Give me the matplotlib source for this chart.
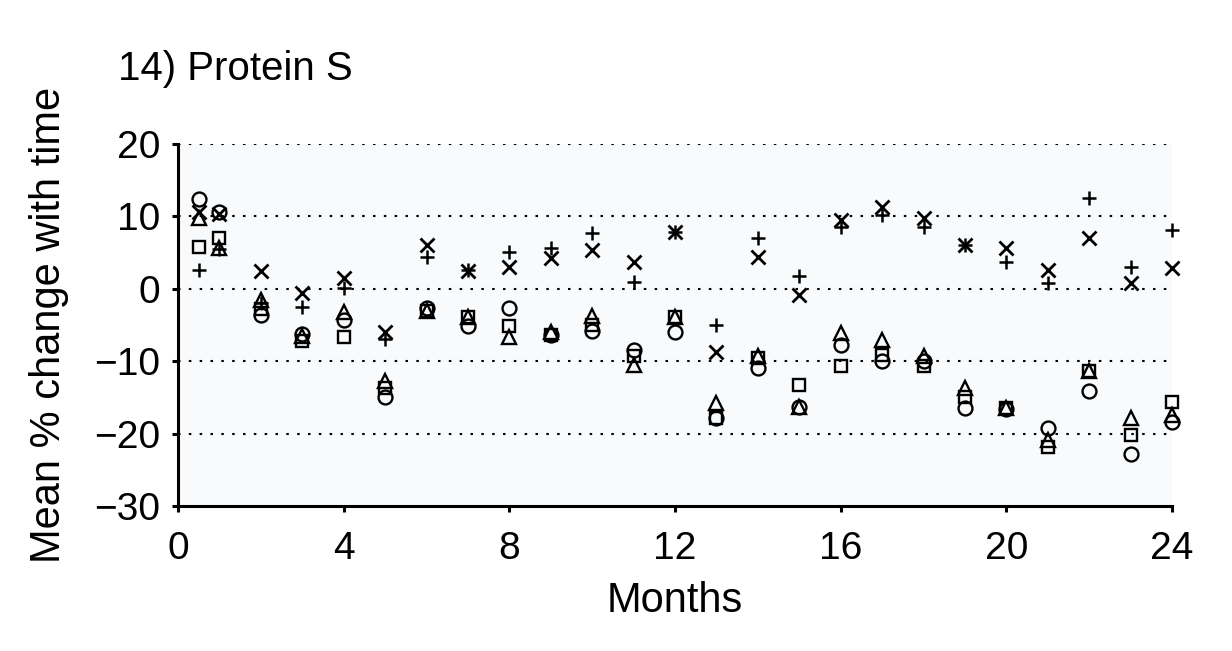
import numpy as np
import matplotlib.pyplot as plt

plt.rcParams['font.family'] = ['Liberation Sans', 'DejaVu Sans']

months = [0.5, 1, 2, 3, 4, 5, 6, 7, 8, 9, 10, 11, 12,
          13, 14, 15, 16, 17, 18, 19, 20, 21, 22, 23, 24]

circle = [12.4, 10.6, -3.6, -6.3, -4.3, -14.9, -2.6, -5.2, -2.7, -6.4, -5.8, -8.5, -5.9,
          -17.8, -10.9, -16.3, -7.7, -10.0, -10.0, -16.4, -16.6, -19.2, -14.1, -22.8, -18.4]
square = [5.8, 7.0, -2.8, -7.2, -6.6, -13.7, -3.0, -3.9, -5.2, -6.4, -5.0, -9.3, -3.9,
          -17.8, -9.6, -13.3, -10.7, -9.1, -10.7, -15.0, -16.5, -21.8, -11.4, -20.2, -15.6]
triangle = [9.8, 5.7, -1.5, -6.5, -3.2, -12.8, -3.0, -3.9, -6.6, -5.9, -3.8, -10.5, -3.9,
            -15.8, -9.3, -16.3, -6.1, -7.1, -9.3, -13.7, -16.4, -20.9, -11.4, -17.8, -17.4]
cross = [10.6, 10.3, 2.4, -0.6, 1.5, -5.9, 6.1, 2.4, 3.0, 4.3, 5.4, 3.7, 7.9,
         -8.7, 4.4, -0.8, 9.5, 11.3, 9.8, 6.0, 5.7, 2.6, 7.0, 0.8, 2.9]
plus = [2.6, 5.5, -2.0, -2.5, 0.1, -7.0, 4.4, 2.6, 5.1, 5.7, 7.7, 1.0, 7.9,
        -5.0, 7.0, 1.7, 8.6, 10.2, 8.6, 6.1, 3.7, 0.8, 12.6, 3.0, 8.1]

fig = plt.figure(figsize=(12.32, 6.51), dpi=100)
ax = fig.add_axes([178/1232, 1-506/651, (1172-178)/1232, (506-144)/651])
ax.set_facecolor('#f8fafc')

for yy in [-20, -10, 0, 10, 20]:
    ax.axhline(yy, color='black', lw=1.5, ls=(0, (1.2, 4.0)), zorder=1)

ms = 10
ax.plot(months, circle, 'o', mfc='none', mec='black', mew=1.7, ms=ms, clip_on=False, zorder=3)
ax.plot(months, square, 's', mfc='none', mec='black', mew=1.7, ms=ms - 0.8, clip_on=False, zorder=3)
ax.plot(months, triangle, '^', mfc='none', mec='black', mew=1.7, ms=ms, clip_on=False, zorder=3)
ax.plot(months, cross, 'x', color='black', mew=2.0, ms=ms, clip_on=False, zorder=3)
ax.plot(months, plus, '+', color='black', mew=1.8, ms=ms, clip_on=False, zorder=3)

ax.set_xlim(0, 24)
ax.set_ylim(-30, 20)
ax.set_xticks([0, 4, 8, 12, 16, 20, 24])
ax.set_yticks([-30, -20, -10, 0, 10, 20])

for s in ['top', 'right']:
    ax.spines[s].set_visible(False)
for s in ['left', 'bottom']:
    ax.spines[s].set_linewidth(2.2)

ax.tick_params(axis='both', direction='out', length=4, width=2.2, labelsize=28)
ax.tick_params(axis='x', pad=14)
ax.tick_params(axis='y', pad=9)
ax.set_xlabel('Months', fontsize=30, labelpad=10)
ax.set_ylabel('Mean % change with time', fontsize=30, labelpad=18)

fig.text(118/1232, 1-80/651, '14) Protein S', fontsize=29, ha='left', va='baseline')

fig.savefig('out.png', dpi=100)
